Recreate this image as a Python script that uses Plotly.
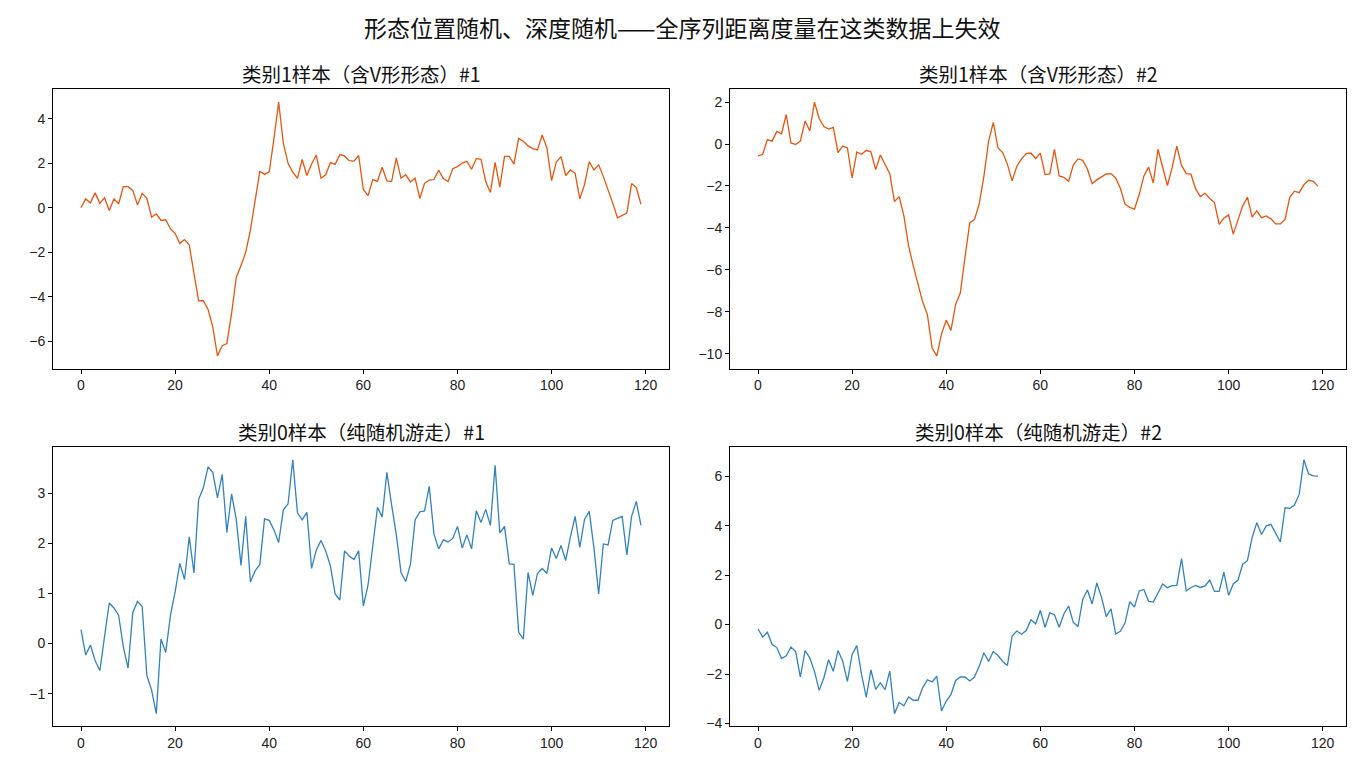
import plotly.graph_objects as go

suptitle = "形态位置随机、深度随机——全序列距离度量在这类数据上失效"
titles = ["类别1样本（含V形形态）#1", "类别1样本（含V形形态）#2",
          "类别0样本（纯随机游走）#1", "类别0样本（纯随机游走）#2"]

x_vals = list(range(120))

class1_s1 = [0.0, 0.4, 0.22, 0.67, 0.2, 0.45, -0.12, 0.4, 0.18, 0.95,
             0.95, 0.78, 0.13, 0.65, 0.42, -0.42, -0.27, -0.57, -0.54, -0.94,
             -1.16, -1.6, -1.43, -1.67, -2.95, -4.18, -4.18, -4.57, -5.35, -6.66,
             -6.2, -6.1, -4.75, -3.13, -2.6, -2.0, -1.0, 0.35, 1.64, 1.5,
             1.62, 3.1, 4.75, 2.9, 2.0, 1.6, 1.32, 2.17, 1.45, 1.97,
             2.37, 1.33, 1.48, 2.03, 1.95, 2.39, 2.33, 2.12, 2.1, 2.35,
             0.82, 0.55, 1.27, 1.19, 1.82, 1.21, 1.18, 2.24, 1.33, 1.49,
             1.16, 1.33, 0.42, 1.1, 1.24, 1.27, 1.69, 1.31, 1.18, 1.76,
             1.85, 2.01, 2.09, 1.73, 2.21, 2.18, 1.18, 0.69, 2.04, 0.93,
             2.31, 2.31, 1.96, 3.12, 2.99, 2.78, 2.66, 2.6, 3.27, 2.69,
             1.22, 2.06, 2.3, 1.45, 1.7, 1.55, 0.4, 1.04, 2.07, 1.7,
             1.93, 1.4, 0.82, 0.21, -0.45, -0.33, -0.24, 1.09, 0.91, 0.15]

class1_s2 = [-0.57, -0.49, 0.21, 0.14, 0.6, 0.49, 1.41, 0.05, -0.02, 0.14,
             1.1, 0.63, 2.0, 1.22, 0.83, 0.71, 0.79, -0.41, -0.1, -0.19,
             -1.62, -0.38, -0.49, -0.3, -0.37, -1.22, -0.52, -1.0, -1.41, -2.75,
             -2.51, -3.43, -4.86, -5.81, -6.65, -7.54, -8.14, -9.73, -10.11, -9.06,
             -8.4, -8.89, -7.65, -7.1, -5.38, -3.76, -3.6, -2.87, -1.54, 0.13,
             1.03, -0.19, -0.41, -0.97, -1.76, -1.06, -0.71, -0.46, -0.43, -0.7,
             -0.43, -1.46, -1.43, -0.25, -1.52, -1.59, -1.78, -1.0, -0.71, -0.78,
             -1.19, -1.89, -1.71, -1.56, -1.43, -1.41, -1.62, -2.11, -2.87, -3.02,
             -3.11, -2.41, -1.52, -1.1, -1.86, -0.25, -1.13, -1.98, -1.13, -0.1,
             -1.02, -1.41, -1.44, -2.14, -2.51, -2.35, -2.6, -2.79, -3.83, -3.54,
             -3.38, -4.3, -3.62, -2.95, -2.54, -3.49, -3.19, -3.51, -3.43, -3.57,
             -3.81, -3.81, -3.6, -2.54, -2.25, -2.32, -1.94, -1.73, -1.78, -2.02]

class0_s1 = [0.28, -0.23, -0.03, -0.34, -0.54, 0.13, 0.81, 0.71, 0.56, -0.07,
             -0.49, 0.62, 0.84, 0.74, -0.64, -0.93, -1.4, 0.09, -0.18, 0.56,
             1.03, 1.6, 1.28, 2.13, 1.41, 2.88, 3.11, 3.53, 3.42, 2.91,
             3.38, 2.22, 2.99, 2.48, 1.56, 2.54, 1.23, 1.45, 1.58, 2.49,
             2.46, 2.27, 2.02, 2.67, 2.79, 3.67, 2.61, 2.47, 2.62, 1.5,
             1.87, 2.06, 1.85, 1.55, 0.99, 0.87, 1.85, 1.75, 1.68, 1.85,
             0.75, 1.17, 1.91, 2.72, 2.53, 3.42, 2.77, 2.18, 1.42, 1.24,
             1.58, 2.47, 2.63, 2.65, 3.14, 2.19, 1.89, 2.07, 2.03, 2.1,
             2.34, 1.91, 2.17, 1.89, 2.65, 2.42, 2.68, 2.36, 3.56, 2.21,
             2.34, 1.59, 1.58, 0.23, 0.09, 1.42, 0.96, 1.4, 1.5, 1.4,
             1.91, 1.7, 1.96, 1.66, 2.13, 2.54, 1.92, 2.48, 2.64, 1.91,
             0.99, 1.99, 1.97, 2.46, 2.5, 2.54, 1.77, 2.54, 2.84, 2.36]

class0_s2 = [-0.17, -0.51, -0.31, -0.81, -0.93, -1.37, -1.26, -0.91, -1.09, -2.12,
             -1.05, -1.34, -1.89, -2.66, -2.15, -1.42, -1.89, -1.05, -1.48, -2.3,
             -1.21, -0.85, -2.01, -2.93, -1.83, -2.62, -2.36, -2.63, -1.88, -3.6,
             -3.15, -3.28, -2.93, -3.06, -3.06, -2.55, -2.23, -2.32, -2.09, -3.49,
             -3.09, -2.83, -2.26, -2.12, -2.12, -2.28, -2.12, -1.69, -1.14, -1.49,
             -1.09, -1.25, -1.49, -1.65, -0.46, -0.26, -0.39, -0.24, 0.19, 0.03,
             0.57, -0.11, 0.47, 0.4, -0.11, 0.43, 0.75, 0.09, -0.08, 1.01,
             1.4, 0.83, 1.68, 1.1, 0.32, 0.64, -0.38, -0.27, 0.07, 0.93,
             0.71, 1.36, 1.42, 0.94, 0.91, 1.29, 1.64, 1.49, 1.57, 1.58,
             2.67, 1.36, 1.5, 1.58, 1.5, 1.56, 1.8, 1.34, 1.34, 2.12,
             1.18, 1.64, 1.8, 2.44, 2.58, 3.52, 4.12, 3.64, 3.99, 4.05,
             3.68, 3.34, 4.72, 4.7, 4.83, 5.26, 6.66, 6.09, 6.01, 6.0]

series = [class1_s1, class1_s2, class0_s1, class0_s2]
colors = ["#e6550d", "#e6550d", "#3182bd", "#3182bd"]
dticks = [2, 2, 1, 2]

W, H = 1365, 780
xdoms = [(53 / W, 669 / W), (730 / W, 1346 / W)]
ydoms = [(1 - 371 / H, 1 - 90 / H), (1 - 731 / H, 1 - 450 / H)]

FONT = "Liberation Sans, Noto Sans CJK SC, sans-serif"
CJK = "Noto Sans CJK SC, sans-serif"

fig = go.Figure()
layout = dict(
    width=W, height=H,
    margin=dict(l=0, r=0, t=0, b=0),
    paper_bgcolor="white", plot_bgcolor="white",
    showlegend=False,
    font=dict(family=FONT, size=14, color="#222222"),
)
annotations = [dict(text=suptitle, x=0.5, y=1 - 27 / H, xref="paper", yref="paper",
                    xanchor="center", yanchor="middle", showarrow=False,
                    font=dict(family=CJK, size=23, color="#111111"))]

xmin, xmax = min(x_vals), max(x_vals)
xpad = (xmax - xmin) * 0.05
for i, ys in enumerate(series):
    r, c = divmod(i, 2)
    idx = "" if i == 0 else str(i + 1)
    fig.add_trace(go.Scatter(x=x_vals, y=ys, mode="lines",
                             line=dict(color=colors[i], width=1.3),
                             xaxis="x" + idx, yaxis="y" + idx))
    ymin, ymax = min(ys), max(ys)
    ypad = (ymax - ymin) * 0.05
    common = dict(showline=True, mirror=True, linecolor="black", linewidth=1,
                  ticks="outside", ticklen=4, tickcolor="black", showgrid=False,
                  zeroline=False, tickfont=dict(size=14, color="#222222"))
    layout["xaxis" + idx] = dict(domain=xdoms[c], anchor="y" + idx,
                                 range=[xmin - xpad, xmax + xpad],
                                 tickmode="linear", tick0=0, dtick=20, **common)
    layout["yaxis" + idx] = dict(domain=ydoms[r], anchor="x" + idx,
                                 range=[ymin - ypad, ymax + ypad],
                                 tickmode="linear", tick0=0, dtick=dticks[i], **common)
    annotations.append(dict(text=titles[i], x=(xdoms[c][0] + xdoms[c][1]) / 2,
                            y=ydoms[r][1] + 16 / H, xref="paper", yref="paper",
                            xanchor="center", yanchor="middle", showarrow=False,
                            font=dict(family=CJK, size=19.5, color="#111111")))

layout["annotations"] = annotations
fig.update_layout(**layout)
fig.write_html("out.html")
